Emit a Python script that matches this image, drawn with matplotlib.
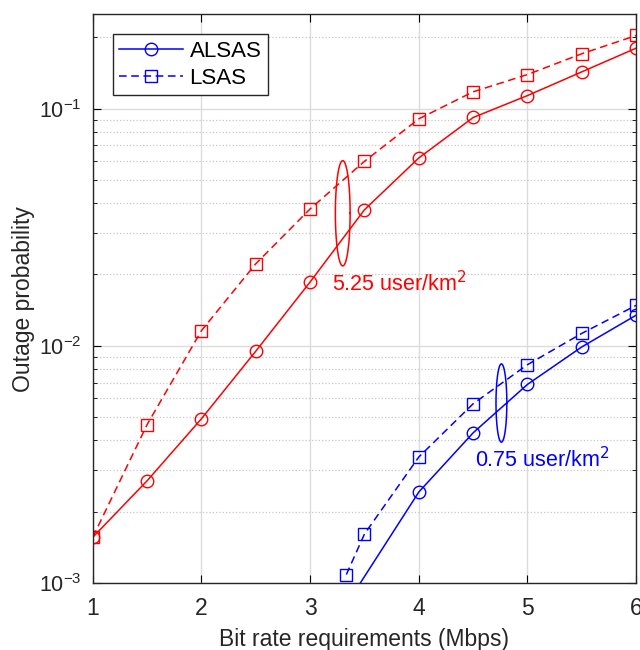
import numpy as np
import matplotlib
matplotlib.use("Agg")
import matplotlib.pyplot as plt
from matplotlib.lines import Line2D

plt.rcParams['font.family'] = ['Liberation Sans', 'DejaVu Sans']

# red group, 5.25 user/km^2
x_red = [1, 1.5, 2, 2.5, 3, 3.5, 4, 4.5, 5, 5.5, 6]
alsas_red = [1.56e-3, 2.70e-3, 4.93e-3, 9.5e-3, 0.0186, 0.0375, 0.0620, 0.0918, 0.1136, 0.143, 0.180]
lsas_red = [1.56e-3, 4.66e-3, 0.0116, 0.0222, 0.0378, 0.0600, 0.0906, 0.1178, 0.1393, 0.1705, 0.2035]

# blue group, 0.75 user/km^2
x_blue_alsas = [3.333, 4, 4.5, 5, 5.5, 6]
alsas_blue = [8.1e-4, 2.42e-3, 4.3e-3, 6.88e-3, 9.9e-3, 0.01347]
x_blue_lsas = [3.333, 3.5, 4, 4.5, 5, 5.5, 6]
lsas_blue = [1.086e-3, 1.61e-3, 3.4e-3, 5.7e-3, 8.33e-3, 0.01129, 0.01482]

fig = plt.figure(figsize=(6.4, 6.5), dpi=100)
ax = fig.add_axes([0.145, 0.103, 0.849, 0.875])

mk = dict(markersize=9, fillstyle='none', markeredgewidth=1.0, linewidth=1.1)
ax.plot(x_red, alsas_red, '-o', color='red', **mk)
ax.plot(x_red, lsas_red, '--s', color='red', dashes=(5, 3), **mk)
ax.plot(x_blue_alsas, alsas_blue, '-o', color='blue', **mk)
ax.plot(x_blue_lsas, lsas_blue, '--s', color='blue', dashes=(5, 3), **mk)

# ellipses drawn in (x, log y) space
def ellipse(cx, cy_log, a, b, color):
    t = np.linspace(0, 2 * np.pi, 200)
    ax.plot(cx + a * np.cos(t), 10 ** (cy_log + b * np.sin(t)), color=color, linewidth=1.1)

ellipse(3.30, -1.441, 0.068, 0.222, 'red')
ellipse(4.76, -2.241, 0.05, 0.165, 'blue')

ax.text(3.20, 0.0183, '5.25 user/km$^2$', color='red', fontsize=15.5, va='center')
ax.text(4.52, 3.3e-3, '0.75 user/km$^2$', color='blue', fontsize=15.5, va='center')

ax.set_yscale('log')
ax.set_xlim(1, 6)
ax.set_ylim(1e-3, 0.25)
ax.set_xticks([1, 2, 3, 4, 5, 6])
ax.set_xlabel('Bit rate requirements (Mbps)', fontsize=16.5, color='#262626', labelpad=6)
ax.set_ylabel('Outage probability', fontsize=16.5, color='#262626', labelpad=3)

ax.grid(True, which='major', color='#dcdcdc', linestyle='-', linewidth=1.0)
ax.grid(True, which='minor', axis='y', color='#c8c8c8', linestyle=':', linewidth=0.9)
ax.set_axisbelow(True)
ax.tick_params(which='both', direction='in', top=True, right=True, labelcolor='#262626')
ax.tick_params(which='major', length=6)
ax.tick_params(which='minor', length=3)
ax.tick_params(axis='x', pad=10, labelsize=16.5)
ax.tick_params(axis='y', pad=8, labelsize=15.5)
for s in ax.spines.values():
    s.set_linewidth(1.0)
    s.set_color('#262626')

handles = [Line2D([], [], color='blue', marker='o', linestyle='-', **mk),
           Line2D([], [], color='blue', marker='s', linestyle='--', dashes=(5, 3), **mk)]
leg = ax.legend(handles, ['ALSAS', 'LSAS'], loc='upper left', fontsize=16,
                fancybox=False, edgecolor='#262626', framealpha=1,
                borderaxespad=0.9, handlelength=2.85, handletextpad=0.3,
                labelspacing=0.25, borderpad=0.3)
leg.get_frame().set_linewidth(1.0)

fig.savefig('out.png', dpi=100)
